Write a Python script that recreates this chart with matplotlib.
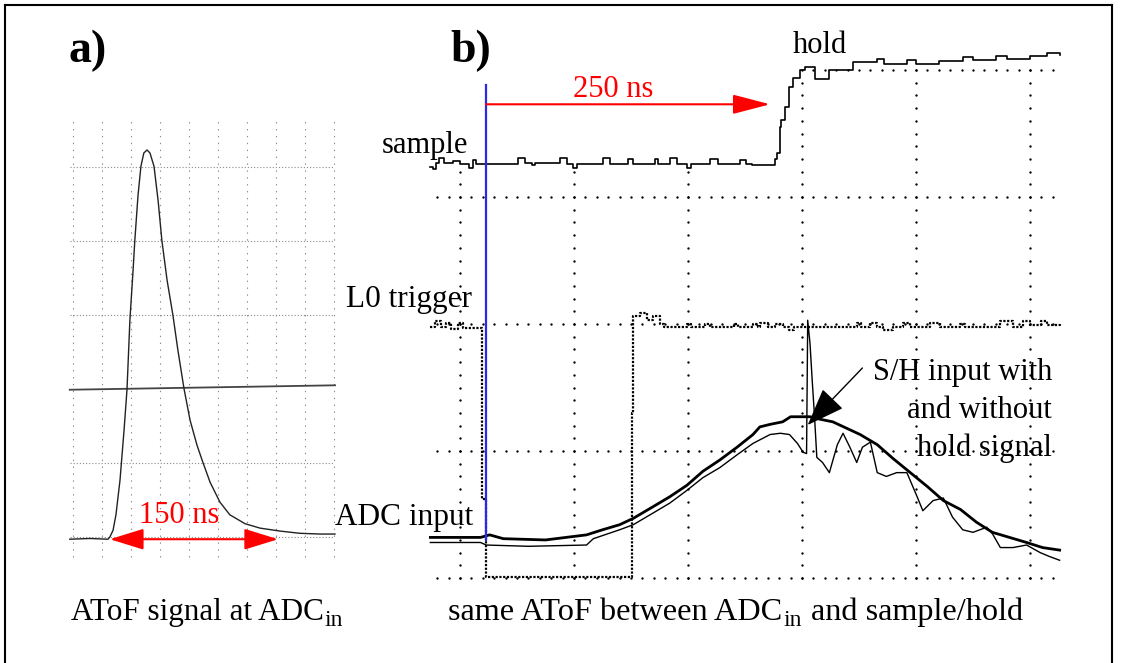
import numpy as np
import matplotlib.pyplot as plt
from matplotlib.lines import Line2D

plt.rcParams['font.family'] = ['Liberation Serif', 'DejaVu Serif']

# ---------------- data ----------------
## panel a: AToF pulse at ADC_in (x and y in scope divisions)
atof_x = [-0.1, 0.6, 1.22, 1.28, 1.39, 1.49, 1.63, 1.77, 1.87, 1.97,
          2.08, 2.14, 2.25, 2.35, 2.45, 2.56, 2.66, 2.80, 2.94, 3.07,
          3.25, 3.45, 3.62, 3.83, 4.04, 4.28, 4.49, 4.73, 5.07, 5.41,
          5.93, 6.45, 7.14, 7.82, 8.52, 9.03]
atof_y = [-0.03, -0.02, -0.03, 0.0, 0.09, 0.30, 0.77, 1.45, 1.99, 2.93,
          3.61, 4.01, 4.62, 5.01, 5.19, 5.23, 5.19, 5.01, 4.55, 4.01,
          3.47, 3.0, 2.53, 2.01, 1.58, 1.24, 1.0, 0.74, 0.47, 0.30,
          0.18, 0.12, 0.08, 0.05, 0.04, 0.04]
thr_x = [-0.1, 9.03]
thr_y = [1.99, 2.05]
a_arrow = (1.28, 7.07, -0.03)     # 150 ns arrow: start, end, level

## panel b: time in ns, level in divisions
sample_t = [-26, -24, -21, -18, -14, -6, 0, 8, 11, 14, 51, 57, 63, 66, 88, 94, 99, 103,
            125, 132, 147, 152, 171, 174, 184, 190, 199, 203, 219, 226, 246, 251, 256,
            276, 278, 281, 282, 285, 289, 292, 298, 303, 311, 324, 345, 366, 372, 392,
            400, 420, 441, 450, 470, 480, 500, 515, 526]
sample_y = [3.24, 3.22, 3.27, 3.31, 3.27, 3.28, 3.26, 3.23, 3.29, 3.26, 3.31, 3.27, 3.25, 3.27,
            3.31, 3.26, 3.23, 3.26, 3.31, 3.26, 3.30, 3.26, 3.30, 3.26, 3.31, 3.26, 3.23, 3.26,
            3.30, 3.26, 3.29, 3.26, 3.25, 3.30, 3.35, 3.55, 3.61, 3.71, 3.87, 3.94, 4.00,
            4.02, 3.93, 4.00, 4.06, 4.09, 4.05, 4.08, 4.05, 4.07, 4.10, 4.08, 4.11, 4.09,
            4.11, 4.13, 4.12]

trig_t = [-26, -22, -17, -12, -8, -2, 3, 19, 23, 151, 152, 158, 164, 169, 175, 179,
          199, 203, 215, 219, 240, 244, 257, 261, 263, 270, 276, 283, 289, 293, 348,
          352, 360, 366, 371, 380, 389, 395, 412, 421, 439, 443, 474, 485, 494, 500,
          510, 515, 526]
trig_y = [1.98, 2.02, 1.98, 2.01, 1.96, 2.01, 1.97, 0.62, 0.01, 1.30, 2.06, 2.09, 2.03,
          2.06, 2.00, 1.98, 2.00, 1.98, 2.00, 1.98, 2.00, 1.98, 2.00, 1.98, 2.01, 1.98,
          2.00, 1.98, 1.95, 1.98, 2.01, 1.98, 2.01, 1.98, 1.95, 1.98, 2.01, 1.98, 2.01,
          1.98, 2.00, 1.98, 2.02, 1.98, 2.02, 1.99, 2.02, 1.99, 2.01]

adc_t = [-26, 18, 26, 38, 75, 111, 125, 140, 152, 169, 184, 199, 213, 228, 243, 257,
         263, 272, 283, 290, 307, 316, 327, 339, 351, 366, 380, 395, 410, 424, 439,
         453, 467, 482, 497, 511, 526]
adc_y = [0.32, 0.32, 0.34, 0.31, 0.30, 0.34, 0.38, 0.42, 0.47, 0.56, 0.64, 0.73, 0.84,
         0.93, 1.03, 1.13, 1.19, 1.21, 1.23, 1.27, 1.27, 1.25, 1.23, 1.18, 1.13, 1.05,
         0.94, 0.83, 0.72, 0.61, 0.54, 0.44, 0.36, 0.32, 0.28, 0.24, 0.22]

sh_t = [-26, 18, 23, 60, 111, 117, 140, 152, 169, 184, 199, 213, 228, 243, 257, 272,
        281, 289, 296, 301, 304, 305, 307, 309, 311, 313, 318, 324, 331, 336, 342, 348,
        353, 360, 366, 374, 383, 392, 401, 406, 415, 424, 432, 441, 450, 462, 467, 474,
        485, 497, 509, 517, 526]
sh_y = [0.28, 0.28, 0.26, 0.25, 0.26, 0.31, 0.38, 0.42, 0.51, 0.59, 0.69, 0.79, 0.87,
        0.97, 1.06, 1.13, 1.14, 1.13, 1.06, 0.99, 0.98, 2.03, 1.85, 1.55, 1.27, 0.95,
        0.91, 0.83, 1.05, 1.14, 1.03, 0.91, 1.03, 1.07, 0.83, 0.80, 0.83, 0.83, 0.64,
        0.53, 0.61, 0.63, 0.48, 0.38, 0.36, 0.40, 0.35, 0.24, 0.24, 0.26, 0.20, 0.17, 0.14]

blue_t, blue_y = 23, (0.30, 3.88)
b_arrow = (23, 272, 3.73)          # 250 ns arrow
sh_tip, sh_tail = (305, 1.205), (353, 1.654)

# ---------------- figure ----------------
W, H = 1123, 663
fig = plt.figure(figsize=(W / 100, H / 100), dpi=100, facecolor='white')
renderer = fig.canvas.get_renderer()

def fx(px):
    return px / W

def fy(py):
    return 1 - py / H

def axes_px(l, t, r, b):
    return fig.add_axes([fx(l), fy(b), (r - l) / W, (b - t) / H])

# frame around the figure (left, top, right)
for xs, ys in [([5, 5], [5, H]), ([5, 1112], [5, 5]), ([1112, 1112], [5, H])]:
    fig.add_artist(Line2D([fx(v) for v in xs], [fy(v) for v in ys],
                          color='black', lw=1.5, transform=fig.transFigure))

## panel a
axa = axes_px(68.3, 111.5, 335.6, 562.9)
axa.set_xlim(-0.15, 9.05)
axa.set_ylim(-0.35, 5.75)
axa.axis('off')
for gx in range(10):
    axa.plot([gx, gx], [-0.27, 5.66], color='#8a8a8a', lw=0.8, ls=(0, (1.2, 5)))
for gy in [0, 1, 3, 4, 5]:
    axa.plot([-0.1, 9.0], [gy, gy], color='#8a8a8a', lw=0.8, ls=(0, (1, 1.8)))
axa.plot(thr_x, thr_y, color='#444444', lw=1.3)
axa.plot(atof_x, atof_y, color='#222222', lw=1.0)
axa.annotate('', xy=(a_arrow[1], a_arrow[2]), xytext=(a_arrow[0], a_arrow[2]),
             arrowprops=dict(arrowstyle='<|-|>,head_length=2.1,head_width=0.65',
                             color='red', lw=1.5, mutation_scale=10,
                             shrinkA=0, shrinkB=0))

## panel b
axb = axes_px(425.8, 44.6, 1064.2, 584.4)
axb.set_xlim(-30, 530)
axb.set_ylim(-0.05, 4.2)
axb.axis('off')
dot = dict(ls='none', marker='o', ms=1.7, mew=0, color='black')
hx = np.arange(-20, 530, 10)
for gy in [0, 1, 2, 3]:
    axb.plot(hx, np.full(hx.size, gy), **dot)
hx4 = np.arange(300, 530, 10)
axb.plot(hx4, np.full(hx4.size, 4), **dot)
for gx, top in [(0, 3.2), (100, 3.2), (200, 3.2), (300, 3.9), (400, 4.0), (500, 4.0)]:
    vy = np.arange(0, top + 0.01, 0.1)
    axb.plot(np.full(vy.size, gx), vy, **dot)

axb.plot(sample_t, sample_y, color='black', lw=1.2, drawstyle='steps-post')
axb.plot(trig_t, trig_y, color='black', lw=1.6, ls=(0, (1, 0.7)), drawstyle='steps-post')
axb.plot(adc_t, adc_y, color='black', lw=2.0)
axb.plot(sh_t, sh_y, color='black', lw=1.0)
axb.plot([blue_t, blue_t], blue_y, color='#2a2ae6', lw=1.6)
axb.annotate('', xy=(b_arrow[1], b_arrow[2]), xytext=(b_arrow[0], b_arrow[2]),
             arrowprops=dict(arrowstyle='-|>,head_length=2.3,head_width=0.6',
                             color='red', lw=1.5, mutation_scale=10,
                             shrinkA=0, shrinkB=0))
axb.annotate('', xy=sh_tip, xytext=sh_tail,
             arrowprops=dict(arrowstyle='-|>,head_length=2.4,head_width=0.9',
                             color='black', lw=1.0, mutation_scale=10,
                             shrinkA=0, shrinkB=0))

# ---------------- texts ----------------
fs = 22
def label(x, y, s, ha='left', **kw):
    return fig.text(fx(x), fy(y), s, ha=ha, va='baseline',
                    fontsize=kw.pop('size', fs), **kw)

label(68, 62, 'a)', size=33, weight='bold')
label(450, 62, 'b)', size=33, weight='bold')
label(179, 523, '150 ns', ha='center', color='red')
label(613, 97, '250 ns', ha='center', color='red')
label(382, 153, 'sample')
label(793, 53, 'hold')
label(472, 307, 'L0 trigger', ha='right', size=22.5)
label(473, 525, 'ADC input', ha='right', size=22.5)
label(1052, 380, 'S/H input with', ha='right')
label(1052, 418, 'and without', ha='right')
label(1052, 456, 'hold signal', ha='right')

# captions: pieces laid out one after the other, subscript "in" smaller and lower
def chain(x, y, parts):
    for s, size, dy, gap in parts:
        t = label(x, y + dy, s, size=size)
        x += t.get_window_extent(renderer=renderer).width + gap

chain(71, 620, [('AToF signal at ADC', 22.4, 0, 1), ('in', 17, 6.5, 0)])
chain(448, 620, [('same AToF between ADC', 23.2, 0, 1), ('in', 17, 6.5, 9),
                 ('and sample/hold', 23.2, 0, 0)])

fig.savefig('out.png', dpi=100, facecolor='white')
